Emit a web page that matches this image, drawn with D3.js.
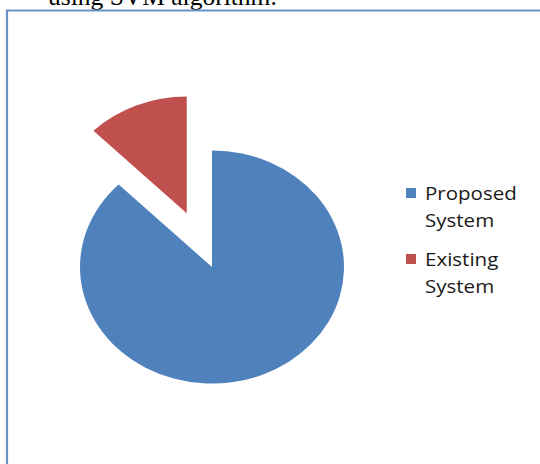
<!DOCTYPE html>
<html>
<head>
<meta charset="utf-8">
<script src="https://cdn.jsdelivr.net/npm/d3@7"></script>
<style>
  html, body { margin: 0; padding: 0; background: #fff; }
  svg { display: block; }
</style>
</head>
<body>
<svg id="chart"></svg>
<script>
const categories = ["Proposed System", "Existing System"];
const values = [87.5, 12.5];
const colors = ["#4f81bd", "#c0504d"];
const legendLines = [["Proposed", "System"], ["Existing", "System"]];
const explode = [0, 0.5];

const svg = d3.select("#chart");
const chartObj = { width: 540, height: 464, cx: 212, cy: 267, r: 132, squash: 0.883 };

svg.attr("width", chartObj.width).attr("height", chartObj.height);

// caption cut off above the chart frame
svg
  .append("text")
  .attr("x", 48)
  .attr("y", 5)
  .attr("font-family", "'Liberation Serif', 'Times New Roman', serif")
  .attr("font-size", 25.5)
  .attr("fill", "#000")
  .text("using SVM algorithm.");

// chart frame (right and bottom edges fall outside)
svg
  .append("path")
  .attr("d", `M 7 ${chartObj.height + 5} L 7 10.5 L ${chartObj.width + 5} 10.5`)
  .attr("fill", "none")
  .attr("stroke", "#6a93c8")
  .attr("stroke-width", 2.2);

const pie = d3.pie().sort(null).value((d) => d);
const arc = d3.arc().innerRadius(0).outerRadius(chartObj.r);
const arcs = pie(values);

const pieGroup = svg
  .append("g")
  .attr("transform", `translate(${chartObj.cx}, ${chartObj.cy}) scale(1, ${chartObj.squash})`);

pieGroup
  .selectAll("path")
  .data(arcs)
  .join("path")
  .attr("d", arc)
  .attr("fill", (d, i) => colors[i])
  .attr("transform", (d, i) => {
    const mid = (d.startAngle + d.endAngle) / 2;
    const off = explode[i] * chartObj.r;
    return `translate(${Math.sin(mid) * off}, ${-Math.cos(mid) * off})`;
  });

// legend
const legend = svg.append("g").attr("transform", "translate(406, 188)");
const legendItems = legend
  .selectAll("g")
  .data(categories)
  .join("g")
  .attr("transform", (d, i) => `translate(0, ${i * 66})`);

legendItems
  .append("rect")
  .attr("width", 10)
  .attr("height", 10)
  .attr("fill", (d, i) => colors[i]);

legendItems.each(function (d, i) {
  const g = d3.select(this);
  legendLines[i].forEach((line, j) => {
    g.append("text")
      .attr("transform", `translate(19, ${11.5 + j * 27}) scale(1.14, 1)`)
      .attr("font-family", "'Open Sans', sans-serif")
      .attr("font-size", 18)
      .attr("fill", "#1a1a1a")
      .text(line);
  });
});
</script>
</body>
</html>
